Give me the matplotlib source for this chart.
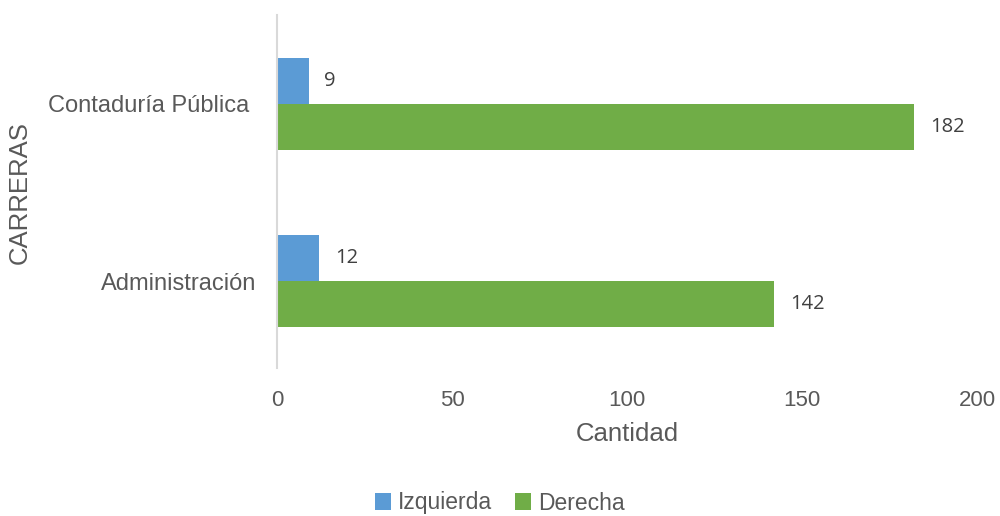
import matplotlib
matplotlib.use("Agg")
import matplotlib.pyplot as plt
import matplotlib.transforms as mtransforms
import numpy as np

# data
categories = ["Administración", "Contaduría Pública"]
izquierda = [12, 9]
derecha = [142, 182]
x_ticks = [0, 50, 100, 150, 200]

blue = "#5B9BD5"
green = "#70AD47"
gray_text = "#595959"

plt.rcParams["font.family"] = ["Liberation Sans", "DejaVu Sans"]

fig = plt.figure(figsize=(10, 5.16), dpi=100)
ax = fig.add_axes([0.277, 1 - 368 / 516, 0.70, 353 / 516])

y = np.arange(len(categories))
h = 0.26
ax.barh(y + h / 2, izquierda, height=h, color=blue, label="Izquierda")
ax.barh(y - h / 2, derecha, height=h, color=green, label="Derecha")

# value labels
for yi, v in zip(y + h / 2, izquierda):
    ax.text(v + 4.5, yi, str(v), va="center", ha="left", fontsize=14.5,
            color="#404040", family=["Open Sans", "DejaVu Sans"])
for yi, v in zip(y - h / 2, derecha):
    ax.text(v + 4.5, yi, str(v), va="center", ha="left", fontsize=14.5,
            color="#404040", family=["Open Sans", "DejaVu Sans"])

ax.set_xlim(0, 200)
ax.set_ylim(-0.49, 1.5)
ax.set_xticks(x_ticks)
ax.set_yticks(y)
ax.set_yticklabels(categories)
ax.tick_params(axis="x", length=0, labelsize=16, colors=gray_text, pad=16)
ax.tick_params(axis="y", length=0, labelsize=17, colors=gray_text, pad=20)

# excel places the lower category label a little further right
lbl = ax.get_yticklabels()[0]
lbl.set_transform(lbl.get_transform() + mtransforms.ScaledTranslation(7 / 100, 0, fig.dpi_scale_trans))

for s in ["top", "right", "bottom"]:
    ax.spines[s].set_visible(False)
ax.spines["left"].set_color("#D9D9D9")
ax.spines["left"].set_linewidth(1.5)

ax.set_xlabel("Cantidad", fontsize=18.5, color=gray_text, labelpad=8)
fig.text(0.02, 1 - 193 / 516, "CARRERAS", rotation=90, fontsize=18.5,
         color=gray_text, ha="center", va="center")

handles, labels = ax.get_legend_handles_labels()
fig.legend(handles, labels, loc="center", bbox_to_anchor=(0.5, 1 - 503 / 516),
           ncol=2, frameon=False, fontsize=16.5, labelcolor=gray_text,
           handlelength=0.7, handleheight=0.7, handletextpad=0.3, columnspacing=1.0)

fig.savefig("out.png", dpi=100)
